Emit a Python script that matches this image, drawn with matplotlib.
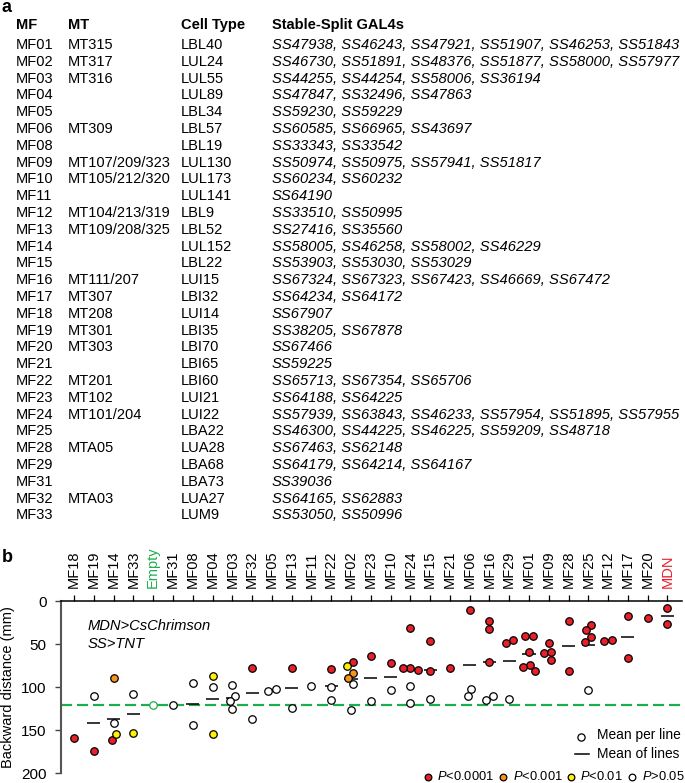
import numpy as np
import matplotlib
matplotlib.use('Agg')
import matplotlib.pyplot as plt
from matplotlib.lines import Line2D

plt.rcParams['font.family'] = ['Liberation Sans', 'DejaVu Sans']
plt.rcParams['mathtext.fontset'] = 'custom'
plt.rcParams['mathtext.rm'] = 'Liberation Sans'
plt.rcParams['mathtext.it'] = 'Liberation Sans:italic'

# ---------------- Panel a: table ----------------
table_headers = ['MF', 'MT', 'Cell Type', 'Stable-Split GAL4s']
mf_ids = ['MF01', 'MF02', 'MF03', 'MF04', 'MF05', 'MF06', 'MF08', 'MF09', 'MF10',
          'MF11', 'MF12', 'MF13', 'MF14', 'MF15', 'MF16', 'MF17', 'MF18', 'MF19',
          'MF20', 'MF21', 'MF22', 'MF23', 'MF24', 'MF25', 'MF28', 'MF29', 'MF31',
          'MF32', 'MF33']
mt_ids = ['MT315', 'MT317', 'MT316', '', '', 'MT309', '', 'MT107/209/323',
          'MT105/212/320', '', 'MT104/213/319', 'MT109/208/325', '', '',
          'MT111/207', 'MT307', 'MT208', 'MT301', 'MT303', '', 'MT201', 'MT102',
          'MT101/204', '', 'MTA05', '', '', 'MTA03', '']
cell_types = ['LBL40', 'LUL24', 'LUL55', 'LUL89', 'LBL34', 'LBL57', 'LBL19',
              'LUL130', 'LUL173', 'LUL141', 'LBL9', 'LBL52', 'LUL152', 'LBL22',
              'LUI15', 'LBI32', 'LUI14', 'LBI35', 'LBI70', 'LBI65', 'LBI60',
              'LUI21', 'LUI22', 'LBA22', 'LUA28', 'LBA68', 'LBA73', 'LUA27', 'LUM9']
ss_lines = [
    'SS47938, SS46243, SS47921, SS51907, SS46253, SS51843',
    'SS46730, SS51891, SS48376, SS51877, SS58000, SS57977',
    'SS44255, SS44254, SS58006, SS36194',
    'SS47847, SS32496, SS47863',
    'SS59230, SS59229',
    'SS60585, SS66965, SS43697',
    'SS33343, SS33542',
    'SS50974, SS50975, SS57941, SS51817',
    'SS60234, SS60232',
    'SS64190',
    'SS33510, SS50995',
    'SS27416, SS35560',
    'SS58005, SS46258, SS58002, SS46229',
    'SS53903, SS53030, SS53029',
    'SS67324, SS67323, SS67423, SS46669, SS67472',
    'SS64234, SS64172',
    'SS67907',
    'SS38205, SS67878',
    'SS67466',
    'SS59225',
    'SS65713, SS67354, SS65706',
    'SS64188, SS64225',
    'SS57939, SS63843, SS46233, SS57954, SS51895, SS57955',
    'SS46300, SS44225, SS46225, SS59209, SS48718',
    'SS67463, SS62148',
    'SS64179, SS64214, SS64167',
    'SS39036',
    'SS64165, SS62883',
    'SS53050, SS50996',
]

# ---------------- Panel b: data ----------------
groups = ['MF18', 'MF19', 'MF14', 'MF33', 'Empty', 'MF31', 'MF08', 'MF04', 'MF03',
          'MF32', 'MF05', 'MF13', 'MF11', 'MF22', 'MF02', 'MF23', 'MF10', 'MF24',
          'MF15', 'MF21', 'MF06', 'MF16', 'MF29', 'MF01', 'MF09', 'MF28', 'MF25',
          'MF12', 'MF17', 'MF20', 'MDN']
line_means = [
    [159.4],
    [110.0, 173.7],
    [89.4, 141.0, 161.7, 154.3],
    [108.3, 152.8],
    [120.7],
    [120.5],
    [95.5, 143.5],
    [86.6, 99.8, 154.0],
    [97.5, 109.9, 116.0, 125.7],
    [77.4, 136.5],
    [104.4, 102.1],
    [77.4, 124.5],
    [98.2],
    [79.0, 99.8, 115.3],
    [70.8, 75.4, 83.9, 89.7, 96.7, 126.5],
    [63.4, 115.7],
    [71.6, 103.3],
    [30.9, 80.0, 77.0, 77.4, 98.2, 118.0],
    [46.0, 80.5, 113.7],
    [77.7],
    [9.7, 101.7, 109.9],
    [23.2, 32.5, 70.8, 114.9, 109.9],
    [48.7, 44.9, 114.1],
    [39.8, 40.2, 58.4, 73.9, 76.2, 80.8],
    [48.0, 59.6, 58.8, 67.7],
    [22.8, 81.2],
    [27.5, 33.7, 41.4, 46.8, 103.3],
    [45.6, 45.3],
    [17.0, 66.1],
    [19.7],
    [8.1, 26.7],
]
# significance per line: r = P<0.0001, o = P<0.001, y = P<0.01, n = P>0.05, e = empty control
line_sig = [
    'r', 'nr', 'onry', 'ny', 'e', 'n', 'nn', 'yny', 'nnnn', 'rn', 'nn', 'rn', 'n',
    'rnn', 'ryoonn', 'rn', 'rn', 'rrrrnn', 'rrn', 'r', 'rnn', 'rrrnn', 'rrn',
    'rrrrrr', 'rrrr', 'rr', 'rrrrn', 'rr', 'rr', 'r', 'rr',
]
legend_labels = ['<0.0001', '<0.001', '<0.01', '>0.05']

RED = '#e8202a'
ORANGE = '#f7941e'
YELLOW = '#fff200'
GREEN = '#1fae4f'
fill_colors = {'r': RED, 'o': ORANGE, 'y': YELLOW, 'n': 'white', 'e': 'white'}
edge_colors = {'r': 'black', 'o': 'black', 'y': 'black', 'n': 'black', 'e': GREEN}

W, H = 685, 783
fig = plt.figure(figsize=(W / 100, H / 100), dpi=100)


def fx(x):
    return x / W


def fy(y):
    return 1 - y / H


FS = 10.5
FS_IT = 10.6
# ---- panel a ----
fig.text(fx(1), fy(7.5), 'a', fontsize=13, fontweight='bold', ha='left', va='center')
col_x = [16, 68, 181, 272]
for cx, hd in zip(col_x, table_headers):
    fig.text(fx(cx), fy(25), hd, fontsize=FS, fontweight='bold', ha='left', va='center')
row0, drow = 45, 16.8
for i in range(len(mf_ids)):
    yy = fy(row0 + i * drow)
    fig.text(fx(col_x[0]), yy, mf_ids[i], fontsize=FS, ha='left', va='center')
    if mt_ids[i]:
        fig.text(fx(col_x[1]), yy, mt_ids[i], fontsize=FS, ha='left', va='center')
    fig.text(fx(col_x[2]), yy, cell_types[i], fontsize=FS, ha='left', va='center')
    fig.text(fx(col_x[3]), yy, ss_lines[i], fontsize=FS_IT, style='italic',
             ha='left', va='center')

# ---- panel b ----
fig.text(fx(2), fy(557), 'b', fontsize=13, fontweight='bold', ha='left', va='center')
ax_l, ax_r, ax_t, ax_b = 61, 681.7, 601.3, 773.3
ax = fig.add_axes([fx(ax_l), fy(ax_b), (ax_r - ax_l) / W, (ax_b - ax_t) / H])
xmin, xmax = -0.66, 30.72
ax.set_xlim(xmin, xmax)
ax.set_ylim(200, 0)

ppx = (ax_r - ax_l) / (xmax - xmin)   # pixels per category
ppy = (ax_b - ax_t) / 200.0           # pixels per mm
D = 7.6                                # min marker spacing (px)


def swarm_offsets(vals):
    vals = np.asarray(vals, float)
    n = len(vals)
    order = np.argsort(vals, kind='stable')
    ys = vals * ppy
    xs = np.zeros(n)
    placed = []
    for i in order:
        y = ys[i]
        near = [(xj, yj) for (xj, yj) in placed if abs(yj - y) < D]
        cands = [0.0]
        for xj, yj in near:
            dx = np.sqrt(D ** 2 - (yj - y) ** 2)
            cands += [xj + dx, xj - dx]
        cands.sort(key=lambda c: (round(abs(c), 6), c))
        for c in cands:
            if all((c - xj) ** 2 + (y - yj) ** 2 >= D ** 2 - 1e-6 for xj, yj in near):
                xs[i] = c
                break
        placed.append((xs[i], y))
    clusters, cur = [], [order[0]]
    for a, b in zip(order[:-1], order[1:]):
        if ys[b] - ys[a] < D:
            cur.append(b)
        else:
            clusters.append(cur)
            cur = [b]
    clusters.append(cur)
    for c in clusters:
        if len(c) > 1:
            xs[c] -= xs[c].mean()
    return xs / ppx


empty_idx = groups.index('Empty')
empty_mean = np.mean(line_means[empty_idx])
ax.axhline(empty_mean, color=GREEN, lw=1.6, dashes=(5, 2.2), zorder=1)

for gi, (vals, sigs) in enumerate(zip(line_means, line_sig)):
    offs = swarm_offsets(vals)
    if len(vals) > 1:
        m = np.mean(vals)
        ax.plot([gi - 0.33, gi + 0.33], [m, m], color='black', lw=1.1, zorder=2,
                solid_capstyle='butt')
    for v, s, o in zip(vals, sigs, offs):
        ax.plot(gi + o, v, 'o', ms=5.4, mfc=fill_colors[s], mec=edge_colors[s],
                mew=0.9, zorder=3)

ax.set_xticks(range(len(groups)))
ax.set_xticklabels(groups)
ax.xaxis.tick_top()
ax.tick_params(axis='x', rotation=90, length=4.5, width=0.9, pad=5, labelsize=FS)
for lab in ax.get_xticklabels():
    if lab.get_text() == 'Empty':
        lab.set_color(GREEN)
    elif lab.get_text() == 'MDN':
        lab.set_color(RED)
ax.set_yticks([0, 50, 100, 150, 200])
ax.tick_params(axis='y', length=4.5, width=1.0, pad=6, labelsize=FS + 0.5,
               color='#444444')
ax.spines['right'].set_visible(False)
ax.spines['bottom'].set_visible(False)
ax.spines['top'].set_linewidth(1.1)
ax.spines['left'].set_linewidth(1.5)
ax.spines['left'].set_color('#555555')
ax.set_ylabel('Backward distance (mm)', fontsize=FS, labelpad=4)

fig.text(fx(88), fy(626), 'MDN>CsChrimson', fontsize=FS_IT, style='italic',
         ha='left', va='center')
fig.text(fx(88), fy(644), 'SS>TNT', fontsize=FS_IT, style='italic',
         ha='left', va='center')

# legend (figure pixel coordinates)
fig.add_artist(Line2D([fx(581)], [fy(736.5)], marker='o', ms=5.2, mfc='white',
                      mec='black', mew=0.9, transform=fig.transFigure))
fig.text(fx(597), fy(735), 'Mean per line', fontsize=FS - 0.6, ha='left', va='center')
fig.add_artist(Line2D([fx(575), fx(589)], [fy(754.3), fy(754.3)], color='black',
                      lw=1.1, transform=fig.transFigure))
fig.text(fx(597), fy(754.3), 'Mean of lines', fontsize=FS - 0.6, ha='left', va='center')

leg_cols = [RED, ORANGE, YELLOW, 'white']
leg_mx = [427.7, 503, 570.7, 631.7]
leg_tx = [437, 513, 580, 642]
for c, mx, tx, lab in zip(leg_cols, leg_mx, leg_tx, legend_labels):
    fig.add_artist(Line2D([fx(mx)], [fy(777.2)], marker='o', ms=4.8, mfc=c,
                          mec='black', mew=0.9, transform=fig.transFigure))
    fig.text(fx(tx), fy(776.3), r'$\mathit{P}$' + lab, fontsize=FS - 1.2,
             ha='left', va='center')

fig.savefig('out.png', dpi=100)
